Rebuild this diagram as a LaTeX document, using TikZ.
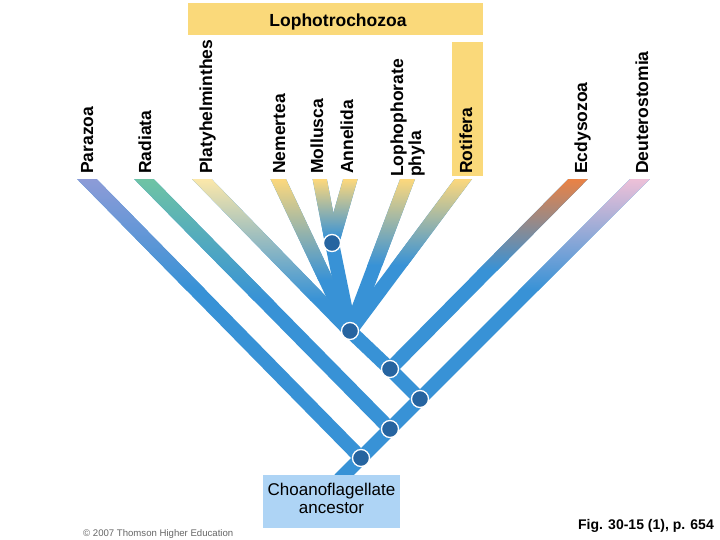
\documentclass[tikz,border=0pt]{standalone}
\usepackage{fontspec}
\setmainfont{Liberation Sans}
\usetikzlibrary{calc}
\pgfdeclarelayer{bg}
\pgfsetlayers{bg,main}
\definecolor{brblue}{RGB}{56,146,214}
\definecolor{nodeblue}{RGB}{38,100,160}
\definecolor{lophoyellow}{RGB}{250,217,122}
\definecolor{ancblue}{RGB}{174,212,245}
\definecolor{cPar}{RGB}{140,155,215}
\definecolor{cRad}{RGB}{110,195,165}
\definecolor{cPla}{RGB}{250,231,170}
\definecolor{cYel}{RGB}{250,215,125}
\definecolor{cEcd}{RGB}{232,130,70}
\definecolor{cDeu}{RGB}{236,192,216}
\newcommand\gradbranch[4]{%
  \begin{scope}
    \clip ($(#1)!7pt!90:(#2)$) -- ($(#1)!7pt!-90:(#2)$) -- ($(#2)!7pt!90:(#1)$) -- ($(#2)!7pt!-90:(#1)$) -- cycle;
    \shade[top color=#3, bottom color=brblue] (0,180) rectangle (720,#4);
  \end{scope}}
\begin{document}
\begin{tikzpicture}[x=1pt,y=-1pt,
  branch/.style={line width=14pt, draw=brblue, line cap=round, line join=round},
  split/.style={circle, fill=nodeblue, draw=white, line width=1.3pt, minimum size=17pt, inner sep=0pt},
  taxon/.style={rotate=90, anchor=base west, inner sep=0pt, font=\fontsize{17.5}{18}\selectfont\bfseries},
  ybox/.style={fill=lophoyellow, inner sep=0pt, anchor=north west}]
\useasboundingbox (0,0) rectangle (720,540);

% split points
\node[split] (A) at (361,458) {};
\node[split] (B) at (390,429) {};
\node[split] (C) at (420,399) {};
\node[split] (D) at (390,369) {};
\node[split] (E) at (350,331) {};
\node[split] (F) at (332,243) {};

% branch tips (above the cut line)
\coordinate (R) at (340,479);
\coordinate (tPar) at (78,170);
\coordinate (tRad) at (135,170);
\coordinate (tPla) at (193,170);
\coordinate (tNem) at (274,170);
\coordinate (tMol) at (318,170);
\coordinate (tAnn) at (353,170);
\coordinate (tLop) at (411,170);
\coordinate (tRot) at (470,170);
\coordinate (tEcd) at (587,170);
\coordinate (tDeu) at (649,170);

\begin{pgfonlayer}{bg}
\fill[white] (0,0) rectangle (720,540);
\begin{scope}
  \clip (0,180) rectangle (720,540);
  \draw[branch] (R) -- (A.center) -- (B.center) -- (C.center) -- (tDeu);
  \draw[branch] (A.center) -- (tPar);
  \draw[branch] (B.center) -- (tRad);
  \draw[branch] (C.center) -- (D.center) -- (E.center) -- (tPla);
  \draw[branch] (D.center) -- (tEcd);
  \draw[branch] (E.center) -- (tNem);
  \draw[branch] (E.center) -- (F.center) -- (tMol);
  \draw[branch] (F.center) -- (tAnn);
  \draw[branch] (E.center) -- (tLop);
  \draw[branch] (E.center) -- (tRot);
  \gradbranch{tPar}{A}{cPar}{290}
  \gradbranch{tRad}{B}{cRad}{300}
  \gradbranch{tPla}{E}{cPla}{300}
  \gradbranch{tNem}{E}{cYel}{280}
  \gradbranch{tMol}{F}{cYel}{238}
  \gradbranch{tAnn}{F}{cYel}{238}
  \gradbranch{tLop}{E}{cYel}{265}
  \gradbranch{tRot}{E}{cYel}{265}
  \gradbranch{tEcd}{D}{cEcd}{270}
  \gradbranch{tDeu}{C}{cDeu}{290}
\end{scope}
\end{pgfonlayer}

% ancestor box
\node[fill=ancblue, minimum width=137pt, minimum height=53pt, inner sep=0pt,
      align=center, text depth=6pt, font=\fontsize{17}{17.5}\selectfont] (anc) at (331.5,501.5)
      {Choanoflagellate\\ancestor};

% Lophotrochozoa and Rotifera boxes
\node[ybox, minimum width=295pt, minimum height=32pt] (lopho) at (188,3) {};
\node[anchor=base, inner sep=0pt, font=\fontsize{17.5}{18}\selectfont\bfseries] (lophotitle) at (338,26.5) {Lophotrochozoa};
\node[ybox, minimum width=31pt, minimum height=134pt] (rotbox) at (452,42) {};

% taxon labels
\node[taxon] (lPar) at (93,174) {Parazoa};
\node[taxon] (lRad) at (151,174) {Radiata};
\node[taxon] (lPla) at (212,174) {Platyhelminthes};
\node[taxon] (lNem) at (285,174) {Nemertea};
\node[taxon] (lMol) at (323,174) {Mollusca};
\node[taxon] (lAnn) at (353,174) {Annelida};
\node[taxon, anchor=south west, align=left] (lLop) at (425,177) {Lophophorate\\phyla};
\node[taxon] (lRot) at (472,174) {Rotifera};
\node[taxon] (lEcd) at (587,174) {Ecdysozoa};
\node[taxon] (lDeu) at (648,174) {Deuterostomia};

% credits
\node[anchor=base west, inner sep=0pt, text=black!60, font=\fontsize{9.6}{10}\selectfont] (copy) at (83,536) {© 2007 Thomson Higher Education};
\node[anchor=base east, inner sep=0pt, font=\fontsize{14}{16}\selectfont\bfseries] (fig) at (714,529) {Fig. 30-15 (1), p. 654};
\end{tikzpicture}
\end{document}
